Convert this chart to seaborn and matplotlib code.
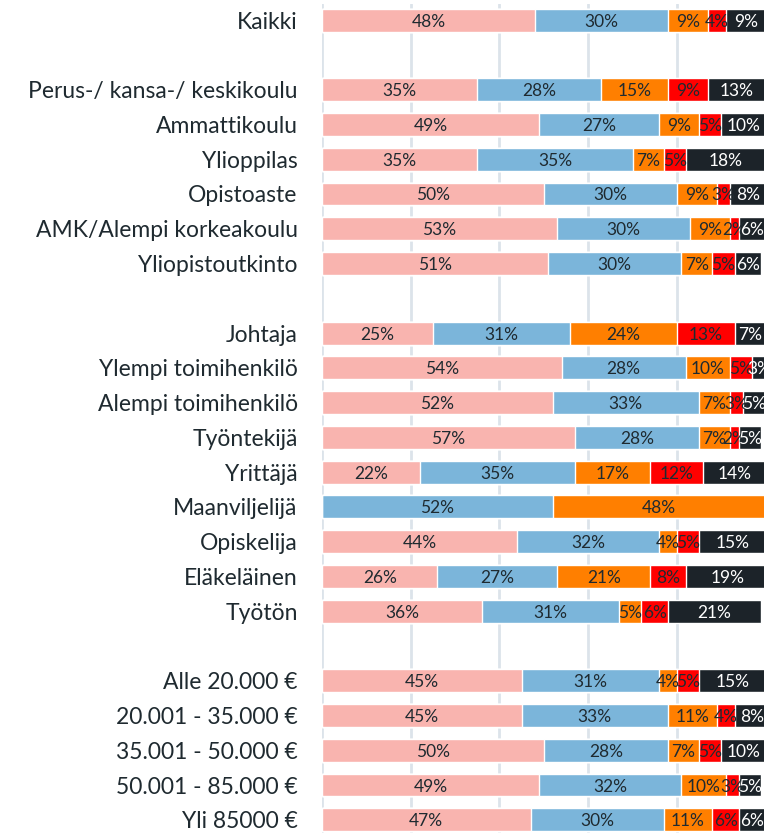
import pandas as pd
import matplotlib
matplotlib.use('Agg')
import matplotlib.pyplot as plt
import seaborn as sns

# ----------------------------------------------------------------------
# Data (percentages per segment)
# ----------------------------------------------------------------------
GROUPS = [
    'Kaikki',
    'Perus-/ kansa-/ keskikoulu', 'Ammattikoulu', 'Ylioppilas', 'Opistoaste',
    'AMK/Alempi korkeakoulu', 'Yliopistoutkinto',
    'Johtaja', 'Ylempi toimihenkilö', 'Alempi toimihenkilö', 'Työntekijä',
    'Yrittäjä', 'Maanviljelijä', 'Opiskelija', 'Eläkeläinen', 'Työtön',
    'Alle 20.000 €', '20.001 - 35.000 €', '35.001 - 50.000 €',
    '50.001 - 85.000 €', 'Yli 85000 €',
]

SEG1 = [48, 35, 49, 35, 50, 53, 51, 25, 54, 52, 57, 22, 0, 44, 26, 36, 45, 45, 50, 49, 47]
SEG2 = [30, 28, 27, 35, 30, 30, 30, 31, 28, 33, 28, 35, 52, 32, 27, 31, 31, 33, 28, 32, 30]
SEG3 = [9, 15, 9, 7, 9, 9, 7, 24, 10, 7, 7, 17, 48, 4, 21, 5, 4, 11, 7, 10, 11]
SEG4 = [4, 9, 5, 5, 3, 2, 5, 13, 5, 3, 2, 12, 0, 5, 8, 6, 5, 4, 5, 3, 6]
SEG5 = [9, 13, 10, 18, 8, 6, 6, 7, 3, 5, 5, 14, 0, 15, 19, 21, 15, 8, 10, 5, 6]

# empty spacer rows between the groups (index in the final row order)
SPACERS = {1: ' ', 8: '  ', 18: '   '}

COLORS = ['#F9B4AF', '#7BB5DA', '#FF7F00', '#FF0000', '#1C2329']
TEXT_DARK = '#1F2A30'

# ----------------------------------------------------------------------


def main():
    segs = [SEG1, SEG2, SEG3, SEG4, SEG5]
    df = pd.DataFrame({'group': GROUPS})
    for i, s in enumerate(segs):
        df[f's{i}'] = s
        df[f'c{i}'] = df[[f's{j}' for j in range(i + 1)]].sum(axis=1)

    order = []
    gi = 0
    for pos in range(len(GROUPS) + len(SPACERS)):
        if pos in SPACERS:
            order.append(SPACERS[pos])
        else:
            order.append(GROUPS[gi])
            gi += 1

    sns.set_style('white')
    plt.rcParams['font.family'] = ['Lato', 'DejaVu Sans']

    fig = plt.figure(figsize=(7.64, 8.33), dpi=100)
    ax = fig.add_axes([0.4215, 0.0, 0.58, 0.995])

    # stacked bars: draw cumulative sums from the longest to the shortest
    for i in reversed(range(5)):
        sns.barplot(data=df, x=f'c{i}', y='group', order=order, orient='h',
                    color=COLORS[i], saturation=1, width=0.66,
                    errorbar=None, ax=ax, zorder=2)

    # segment labels
    ypos = {name: k for k, name in enumerate(order)}
    for _, row in df.iterrows():
        for i in range(5):
            v = row[f's{i}']
            if v <= 0:
                continue
            center = row[f'c{i}'] - v / 2
            ax.text(center, ypos[row['group']], f'{v}%', ha='center',
                    va='center_baseline', fontsize=12.5,
                    color='white' if i == 4 else TEXT_DARK, zorder=3)

    ax.set_xlim(0, 99.9)
    ax.set_ylim(len(order) - 0.62, -0.46)
    ax.set_xticks([0, 20, 40, 60, 80])
    ax.xaxis.grid(True, color='#DCE3EA', linewidth=2, zorder=0)
    ax.set_axisbelow(True)
    ax.set_xlabel('')
    ax.set_ylabel('')
    ax.tick_params(axis='x', bottom=False, labelbottom=False)
    ax.tick_params(axis='y', left=False, pad=14, labelsize=16.5,
                   labelcolor=TEXT_DARK)
    for sp in ax.spines.values():
        sp.set_visible(False)

    fig.savefig('out.png', dpi=100)


if __name__ == '__main__':
    main()
